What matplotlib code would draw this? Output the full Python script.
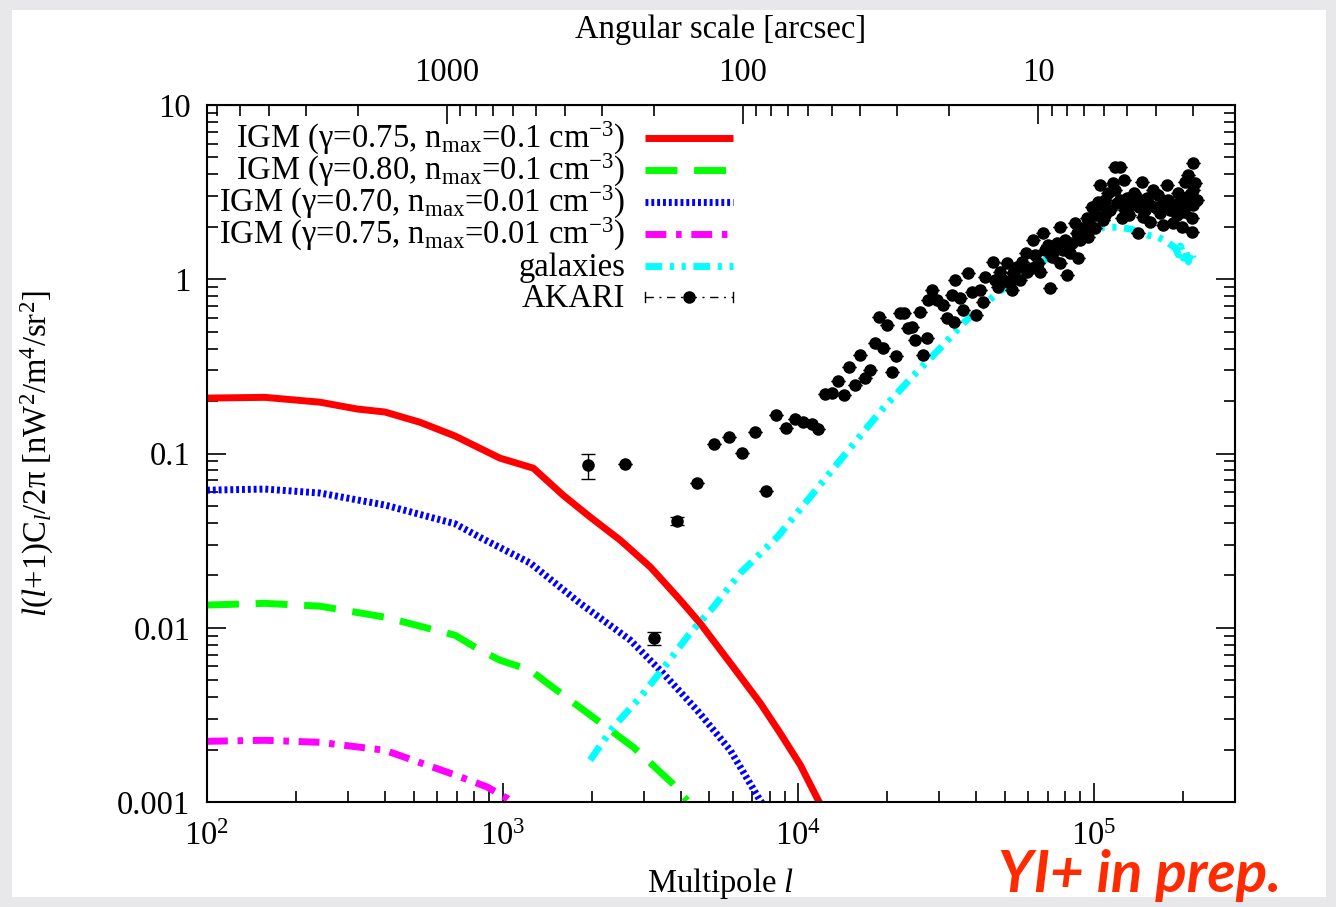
import numpy as np
import matplotlib.pyplot as plt
from matplotlib.patches import Rectangle
from matplotlib.ticker import LogLocator, FixedLocator, FuncFormatter, NullFormatter

plt.rcParams['font.family'] = ['Liberation Serif', 'DejaVu Serif']
plt.rcParams['mathtext.fontset'] = 'custom'
plt.rcParams['mathtext.rm'] = 'Liberation Serif'
plt.rcParams['mathtext.it'] = 'Liberation Serif:italic'
plt.rcParams['mathtext.bf'] = 'Liberation Serif:bold'

FS = 23.5

# IGM models: multipole l and l(l+1)C_l/2pi
igm1_l = [100, 157, 241, 322, 400, 526, 690, 980, 1270, 1600, 1980, 2500,
          3160, 3990, 4660, 6030, 7440, 8690, 10160, 11690, 11900]
igm1_c = [0.208, 0.210, 0.197, 0.180, 0.173, 0.151, 0.126, 0.094, 0.0824,
          0.0577, 0.0431, 0.0318, 0.0223, 0.0144, 0.0106, 0.00594, 0.00369,
          0.00248, 0.00163, 0.00102, 0.00097]

igm2_l = [100, 157, 241, 400, 690, 839, 980, 1240, 1415, 1980, 2770, 3750, 4210]
igm2_c = [0.0135, 0.0138, 0.0133, 0.0115, 0.00906, 0.00743, 0.00651, 0.00571,
          0.00481, 0.00315, 0.00206, 0.00128, 0.00102]

igm3_l = [100, 157, 241, 400, 690, 839, 1240, 1830, 2700, 3490, 4550, 5890,
          7430, 7700]
igm3_c = [0.0616, 0.0625, 0.0593, 0.0506, 0.0395, 0.0330, 0.0235, 0.0138,
          0.0085, 0.00548, 0.00336, 0.00198, 0.00102, 0.00094]

igm4_l = [100, 157, 241, 400, 690, 886, 1035, 1100]
igm4_c = [0.00223, 0.00226, 0.0022, 0.00198, 0.00143, 0.00122, 0.00105, 0.00097]

gal_l = [1977, 2366, 2920, 3604, 4305, 5156, 6364, 8490, 17140, 19390, 23390,
         26490, 30240, 36170, 47100, 66900, 85000, 107700, 121000, 132900,
         151700, 164000, 174600, 188700, 193200, 196200, 200900, 204000,
         208800, 212100, 217100]
gal_c = [0.00174, 0.00269, 0.00399, 0.00626, 0.00931, 0.0131, 0.0206, 0.0331,
         0.142, 0.182, 0.257, 0.321, 0.403, 0.560, 0.833, 1.26, 1.65, 1.99,
         1.99, 1.94, 1.79, 1.75, 1.66, 1.51, 1.38, 1.55, 1.32, 1.47, 1.26,
         1.43, 1.32]

# AKARI fluctuation measurements
akari_l = [1947, 2598, 3256, 3895, 4551, 5195, 5842, 6464, 7153, 7794, 8425,
           9108, 9768, 10400, 11150, 11690, 12340, 13030, 13660, 14310, 14880,
           15590, 16210, 16850, 17530, 18220, 18800, 19390, 20010, 20800,
           21460, 22140, 22840, 23570, 24310, 24890, 25880, 26490, 27320,
           27540, 28410, 29540, 30950, 31930, 33200, 33980, 33720, 35340,
           36170, 37610, 38800, 40030, 41290, 42270, 42930, 45690, 46410,
           47500, 48250, 49390, 50960, 52160, 52980, 53400, 55080, 56380,
           57280, 59100, 59570, 61930, 62420, 63390, 64890, 65920, 67470,
           68530, 70150, 71260, 72380, 74090, 75260, 77030, 77030, 78850,
           80100, 81350, 83280, 84580, 86590, 87940, 88630, 90030, 92160,
           93600, 95060, 95800, 97320, 98830, 101200, 101200, 103600, 105200,
           105200, 106900, 109400, 109400, 112000, 113700, 116400, 118200,
           118200, 120100, 122900, 122900, 124900, 125900, 127800, 129800,
           130900, 132900, 136100, 138200, 140400, 141500, 143700, 145900,
           147100, 149400, 151700, 155300, 155300, 157800, 161500, 165300,
           167900, 170500, 171900, 177300, 178700, 181500, 184400, 188700,
           191700, 193200, 196200, 199300, 200900, 204000, 204000, 207200,
           208800, 212100, 215400, 215400, 217100, 217100, 217100, 220500,
           224000]
akari_c = [0.0858, 0.0869, 0.00871, 0.0409, 0.0676, 0.113, 0.124, 0.1005,
           0.133, 0.0608, 0.166, 0.140, 0.157, 0.151, 0.148, 0.138, 0.219,
           0.222, 0.260, 0.216, 0.313, 0.247, 0.367, 0.271, 0.301, 0.430,
           0.607, 0.403, 0.546, 0.293, 0.362, 0.640, 0.640, 0.525, 0.531,
           0.448, 0.648, 0.367, 0.459, 0.760, 0.867, 0.760, 0.711, 0.598,
           0.811, 0.989, 0.568, 0.780, 0.665, 1.085, 0.844, 0.623, 0.867,
           0.740, 1.030, 1.255, 0.989, 0.902, 1.100, 0.989, 1.239, 0.951,
           0.867, 1.085, 1.175, 0.989, 1.255, 1.413, 1.100, 1.159, 1.679,
           1.377, 1.239, 1.100, 1.841, 1.471, 1.571, 0.890, 1.341, 1.471,
           1.614, 1.994, 1.239, 1.471, 1.679, 1.057, 1.413, 1.614, 2.102,
           1.841, 1.324, 1.679, 1.967, 1.794, 2.244, 1.746, 2.047, 2.596,
           1.967, 2.336, 2.773, 3.473, 2.666, 2.188, 2.336, 2.850, 3.125,
           2.496, 3.567, 4.406, 3.251, 2.736, 4.406, 2.850, 2.244, 3.710,
           2.496, 2.924, 2.336, 2.666, 3.125, 3.043, 1.841, 2.596, 2.850,
           3.614, 2.275, 2.496, 2.924, 2.128, 2.666, 3.251, 2.596, 3.043,
           2.399, 2.666, 2.047, 3.473, 2.850, 2.496, 2.102, 2.596, 2.336,
           3.125, 2.850, 1.994, 2.431, 3.614, 2.666, 2.965, 3.963, 3.043,
           2.244, 1.866, 4.645, 3.251, 2.666, 3.567, 2.850]
# error bars are only resolvable for a few points
akari_err = [0.014, 0.0, 0.0008, 0.0021] + [0.0] * (len(akari_l) - 4)

# angular-scale axis ticks [arcsec]
theta_major = [1000, 100, 10]
theta_minor = [k * 10 ** e for e in range(0, 4) for k in range(2, 10)]

labels = [
    'IGM (γ=0.75, n$_{\\rm max}$=0.1 cm$^{-3}$)',
    'IGM (γ=0.80, n$_{\\rm max}$=0.1 cm$^{-3}$)',
    'IGM (γ=0.70, n$_{\\rm max}$=0.01 cm$^{-3}$)',
    'IGM (γ=0.75, n$_{\\rm max}$=0.01 cm$^{-3}$)',
    'galaxies',
    'AKARI',
]

styles = [
    dict(color='#ff0000', lw=5, ls='-'),
    dict(color='#00ff00', lw=5, ls=(0, (4.6, 2.4))),
    dict(color='#0000ff', lw=5, ls=(0, (0.42, 0.42))),
    dict(color='#ff00ff', lw=5, ls=(0, (3.0, 1.4, 0.8, 1.4))),
    dict(color='#00ffff', lw=5, ls=(0, (2.4, 1.1, 0.6, 1.1, 0.6, 1.1))),
]

W, H = 1336, 907
fig = plt.figure(figsize=(W / 100, H / 100), dpi=100)
fig.patch.set_facecolor('#e8e8ea')
fig.patches.append(Rectangle((12 / W, 10 / H), 1314 / W, 887 / H,
                             transform=fig.transFigure, facecolor='white',
                             edgecolor='none', zorder=-1))

x0, x1, ytop, ybot = 207, 1235, 105, 802
ax = fig.add_axes([x0 / W, (H - ybot) / H, (x1 - x0) / W, (ybot - ytop) / H])

curves = [(igm1_l, igm1_c), (igm2_l, igm2_c), (igm3_l, igm3_c),
          (igm4_l, igm4_c), (gal_l, gal_c)]
for (lx, cy), st in zip(curves, styles):
    ax.plot(lx, cy, solid_capstyle='butt', dash_capstyle='butt', **st)

ax.errorbar(akari_l, akari_c, yerr=akari_err, fmt='o', color='black', ms=8,
            elinewidth=1, capsize=5, capthick=1, zorder=5)

ax.set_xscale('log')
ax.set_yscale('log')
ax.set_xlim(100, 3.0e5)
ax.set_ylim(0.001, 10)

for s in ax.spines.values():
    s.set_linewidth(1.5)

ax.yaxis.set_major_locator(LogLocator(base=10, numticks=10))
ax.yaxis.set_major_formatter(FuncFormatter(lambda v, _: '%g' % v))
ax.yaxis.set_minor_formatter(NullFormatter())
ax.xaxis.set_minor_formatter(NullFormatter())
ax.tick_params(which='both', direction='in', top=False, right=True,
               labelsize=FS, width=1.2)
ax.tick_params(axis='x', which='major', length=14, pad=14)
ax.tick_params(axis='y', which='major', length=14, pad=12)
ax.tick_params(which='minor', length=8)

ax.set_xlabel('Multipole $l$', fontsize=FS, labelpad=10)
ax.set_ylabel('$l$($l$+1)C$_l$/2π [nW$^2$/m$^4$/sr$^2$]', fontsize=FS,
              labelpad=44)


def l_to_arcsec(v):
    v = np.asarray(v, dtype=float)
    with np.errstate(divide='ignore'):
        return 648000.0 / v


sec = ax.secondary_xaxis('top', functions=(l_to_arcsec, l_to_arcsec))
sec.xaxis.set_major_locator(FixedLocator(theta_major))
sec.xaxis.set_minor_locator(FixedLocator(theta_minor))
sec.xaxis.set_major_formatter(FuncFormatter(lambda v, _: '%g' % v))
sec.xaxis.set_minor_formatter(NullFormatter())
sec.tick_params(which='both', direction='in', labelsize=FS, width=1.2)
sec.tick_params(which='major', length=14, pad=12)
sec.tick_params(which='minor', length=8)
sec.set_xlabel('Angular scale [arcsec]', fontsize=FS, labelpad=14)

# key in the upper left, text right-aligned against the line samples
aw, ah = x1 - x0, ybot - ytop
row_px = [138, 170, 202, 234, 266, 297]
tx = (625 - x0) / aw
sx0, sx1 = (645 - x0) / aw, (733 - x0) / aw
for i, (lab, py) in enumerate(zip(labels, row_px)):
    yc = (ybot - py) / ah
    ax.text(tx, (ybot - py - 10) / ah, lab, transform=ax.transAxes,
            ha='right', va='baseline', fontsize=FS)
    if i < len(styles):
        ax.plot([sx0, sx1], [yc, yc], transform=ax.transAxes,
                solid_capstyle='butt', dash_capstyle='butt', **styles[i])
    else:
        ax.plot([sx0, sx1], [yc, yc], transform=ax.transAxes, color='black',
                lw=1, ls=(0, (6, 4, 1.5, 4)))
        ax.plot([sx0, sx0], [yc - 5 / ah, yc + 5 / ah],
                transform=ax.transAxes, color='black', lw=1)
        ax.plot([sx1, sx1], [yc - 5 / ah, yc + 5 / ah],
                transform=ax.transAxes, color='black', lw=1)
        ax.plot([(sx0 + sx1) / 2], [yc], 'o', color='black', ms=8,
                transform=ax.transAxes)

fig.text(998 / W, (H - 876) / H, 'YI+ in prep.', color='#ff2a00',
         fontsize=42, fontweight='bold', fontstyle='italic', family='Lato',
         ha='left', va='center')

fig.savefig('out.png', dpi=100, facecolor=fig.get_facecolor())
